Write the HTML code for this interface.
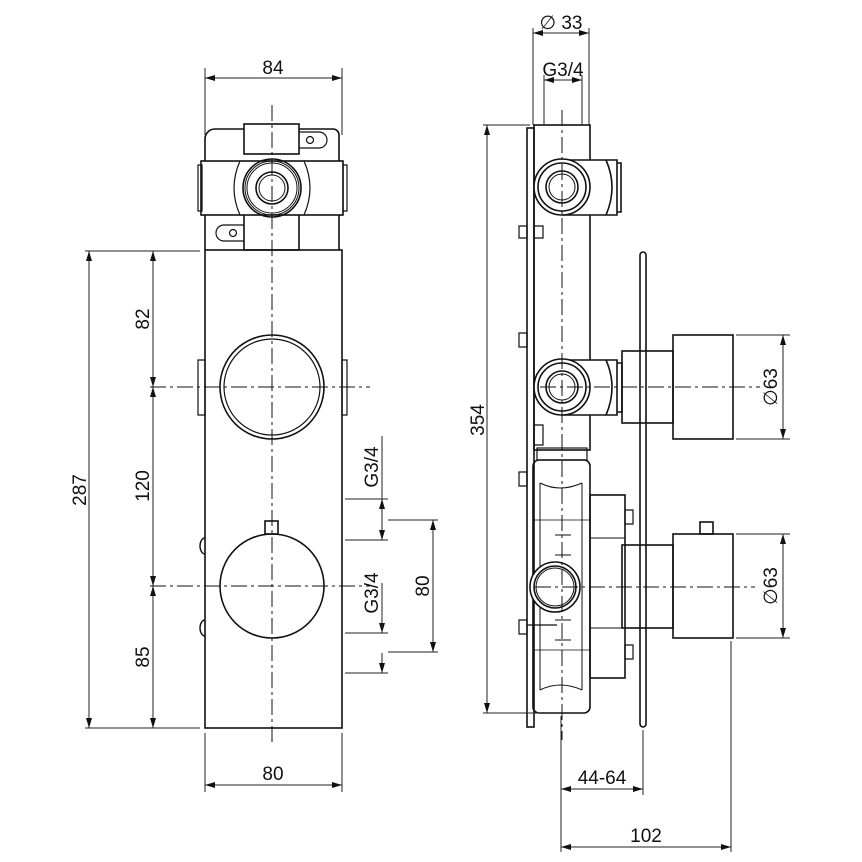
<!DOCTYPE html>
<html><head><style>html,body{margin:0;padding:0;background:#fff}svg{display:block}
text{font-family:"Liberation Sans","DejaVu Sans",sans-serif;fill:#111}</style></head><body>
<svg width="862" height="862" viewBox="0 0 862 862" xmlns="http://www.w3.org/2000/svg">
<defs>
<marker id="a" viewBox="0 0 10 6" refX="10" refY="3" markerWidth="10" markerHeight="6" orient="auto-start-reverse" markerUnits="userSpaceOnUse"><path d="M0,0L10,3L0,6z" fill="#111"/></marker>
</defs>
<g fill="none" stroke="#111" stroke-width="1.6">
<path d="M205,250V139a10,10 0 0 1 10,-10H333a6,6 0 0 1 6,6V250"/>
<rect x="244" y="124" width="55" height="30" fill="#fff"/>
<rect x="244" y="212" width="55" height="38" fill="#fff"/>
<rect x="201" y="161" width="142" height="54" fill="#fff"/>
<path d="M198,165h4v46h-4z M343,165h4v46h-4z" stroke-width="1.2"/>
<path d="M240,161q-12,27 0,54 M304,161q12,27 0,54" stroke-width="1.2"/>
<circle cx="272" cy="188" r="29"/><circle cx="272" cy="188" r="27" stroke-width="1"/><circle cx="272" cy="188" r="25" stroke-width="1"/>
<circle cx="272" cy="188" r="16"/><circle cx="272" cy="188" r="13" stroke-width="1"/>
<path d="M299,132h20a8,8 0 0 1 0,16h-20" stroke-width="1.2"/><circle cx="310" cy="140" r="3.5" stroke-width="1.2"/>
<path d="M244,225h-20a8,8 0 0 0 0,16h20" stroke-width="1.2"/><circle cx="233" cy="233" r="3.5" stroke-width="1.2"/>
<rect x="205" y="250" width="137" height="478"/>
<path d="M198,360h7v55h-7z M342,360h5v55h-5z" stroke-width="1.2"/>
<circle cx="272" cy="387" r="52"/><circle cx="272" cy="387" r="48" stroke-width="1.2"/>
<circle cx="272" cy="586" r="52"/>
<rect x="265" y="521" width="13" height="13"/>
<path d="M205,538a5,8 0 0 0 0,16 M205,620a5,8 0 0 0 0,16" stroke-width="1.4"/>
<rect x="527" y="128" width="7" height="599"/>
<rect x="640" y="252" width="6" height="475" rx="3"/>
<rect x="534" y="125" width="56" height="325"/>
<path d="M562,160H606q12,27 0,55H562 M606,160h11v55h-11 M617,163h4v49h-4" fill="#fff"/>
<circle cx="562" cy="187" r="28" fill="#fff"/><circle cx="562" cy="187" r="24"/><circle cx="562" cy="187" r="16"/><circle cx="562" cy="187" r="13" stroke-width="1"/>
<path d="M562,360H606q12,27 0,55H562 M606,360h11v55h-11 M617,363h5v49h-5" fill="#fff"/>
<circle cx="562" cy="387" r="28" fill="#fff"/><circle cx="562" cy="387" r="24"/><circle cx="562" cy="387" r="16"/><circle cx="562" cy="387" r="13" stroke-width="1"/>
<rect x="622" y="351" width="51" height="72"/>
<rect x="673" y="335" width="60" height="104"/>
<path d="M519,226h8v12h-8z M534,226h9v12h-9z M519,333h8v14h-8z M534,425h9v20h-9z M519,472h8v14h-8z M519,620h8v14h-8z" stroke-width="1.2"/>
<rect x="537" y="448" width="50" height="12" stroke-width="1.2"/>
<rect x="533" y="460" width="57" height="253" rx="6"/>
<path d="M540,483q20,10 42,0 M540,690q20,-10 42,0 M540,483V690 M582,483V690" stroke-width="1"/>
<path d="M533,520H590 M533,650H590" stroke-width="0.8"/>
<rect x="590" y="495" width="35" height="183"/>
<path d="M590,538h35 M590,628h35" stroke-width="1"/>
<path d="M625,510h8v14h-8z M625,645h8v14h-8z" stroke-width="1.2"/>
<path d="M555,535h16 M555,555h16 M555,620h16 M555,640h16" stroke-width="1"/>
<path d="M527,625h30" stroke-width="1.2"/>
<circle cx="555" cy="587" r="25" fill="#fff"/><circle cx="555" cy="587" r="21"/><circle cx="555" cy="587" r="19" stroke-width="1"/>
<rect x="622" y="545" width="51" height="83"/>
<rect x="673" y="534" width="60" height="104"/>
<rect x="700" y="522" width="13" height="12"/>
</g>
<g fill="none" stroke="#111" stroke-width="1" stroke-dasharray="16,4,3,4">
<path d="M272,105V745 M150,387H370 M150,586H370"/>
<path d="M562,110V740 M540,387H760 M535,587H755"/>
</g>
<g fill="none" stroke="#222" stroke-width="1">
<path d="M205,68V135 M342,68V135"/><path d="M205,78H342" marker-start="url(#a)" marker-end="url(#a)"/>
<path d="M205,733V792 M342,733V792"/><path d="M205,785H342" marker-start="url(#a)" marker-end="url(#a)"/>
<path d="M85,251H200 M85,728H200"/>
<path d="M89,251V728" marker-start="url(#a)" marker-end="url(#a)"/>
<path d="M153,251V387" marker-start="url(#a)" marker-end="url(#a)"/>
<path d="M153,387V586" marker-start="url(#a)" marker-end="url(#a)"/>
<path d="M153,586V728" marker-start="url(#a)" marker-end="url(#a)"/>
<path d="M345,499H388 M345,540H388 M345,633H388 M345,673H388"/>
<path d="M382,436V499"/><path d="M382,520V540" marker-end="url(#a)"/><path d="M382,613V633" marker-end="url(#a)"/><path d="M382,583V633"/>
<path d="M382,653V673" marker-end="url(#a)"/><path d="M382,520V499" marker-end="url(#a)"/>
<path d="M388,520H438 M388,652H438"/><path d="M433,520V652" marker-start="url(#a)" marker-end="url(#a)"/>
<path d="M533,28V125 M589,28V125"/><path d="M533,33H589" marker-start="url(#a)" marker-end="url(#a)"/>
<path d="M544,75V125 M582,75V125"/><path d="M544,80H582" marker-start="url(#a)" marker-end="url(#a)"/>
<path d="M483,125H530 M483,713H540"/><path d="M487,125V713" marker-start="url(#a)" marker-end="url(#a)"/>
<path d="M736,335H790 M736,439H790 M736,534H790 M736,638H790"/>
<path d="M783,335V439" marker-start="url(#a)" marker-end="url(#a)"/>
<path d="M783,534V638" marker-start="url(#a)" marker-end="url(#a)"/>
<path d="M561,716V852 M643,730V795 M731,641V852"/>
<path d="M561,789H643" marker-start="url(#a)" marker-end="url(#a)"/>
<path d="M561,847H731" marker-start="url(#a)" marker-end="url(#a)"/>
</g>
<g font-size="19">
<text x="273" y="74" text-anchor="middle">84</text>
<text x="273" y="780" text-anchor="middle">80</text>
<text x="602" y="784" text-anchor="middle">44-64</text>
<text x="646" y="842" text-anchor="middle">102</text>
<text x="561" y="29" text-anchor="middle">∅ 33</text>
<text x="563" y="76" text-anchor="middle">G3/4</text>
<text transform="translate(86,490) rotate(-90)" text-anchor="middle">287</text>
<text transform="translate(149,319) rotate(-90)" text-anchor="middle">82</text>
<text transform="translate(149,486) rotate(-90)" text-anchor="middle">120</text>
<text transform="translate(149,657) rotate(-90)" text-anchor="middle">85</text>
<text transform="translate(378,467) rotate(-90)" text-anchor="middle">G3/4</text>
<text transform="translate(378,593) rotate(-90)" text-anchor="middle">G3/4</text>
<text transform="translate(429,586) rotate(-90)" text-anchor="middle">80</text>
<text transform="translate(484,420) rotate(-90)" text-anchor="middle">354</text>
<text transform="translate(777,387) rotate(-90)" text-anchor="middle">∅63</text>
<text transform="translate(777,586) rotate(-90)" text-anchor="middle">∅63</text>
</g>
</svg>
</body></html>
